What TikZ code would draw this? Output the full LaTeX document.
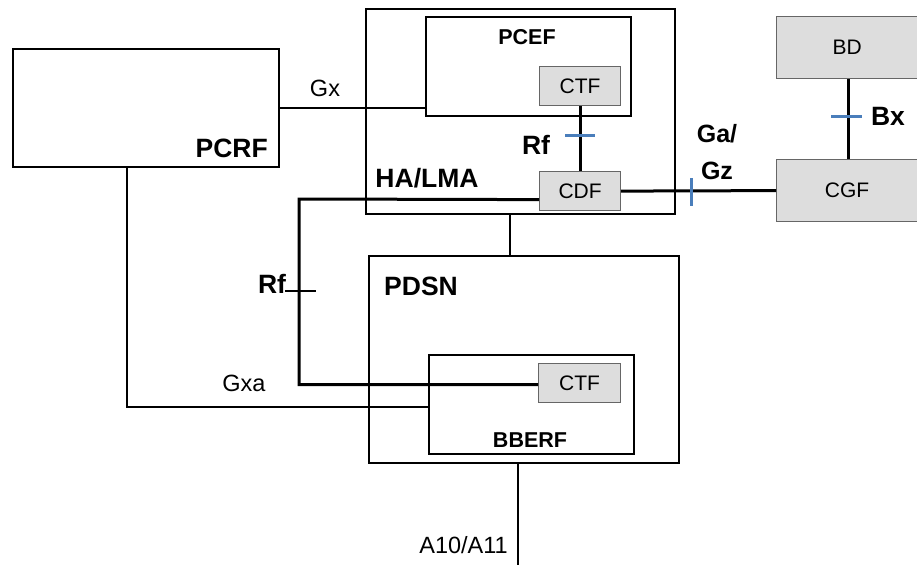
\documentclass[tikz,border=0pt]{standalone}
\usepackage{fontspec}
\setmainfont{Liberation Sans}
\usetikzlibrary{calc}
\definecolor{boxgray}{HTML}{DDDDDD}
\definecolor{edgegray}{HTML}{666666}
\definecolor{tickblue}{HTML}{4A7EBB}
\begin{document}
\begin{tikzpicture}[x=1pt,y=-1pt,
  wbox/.style={draw=black,line width=1.6pt,fill=white,anchor=north west,inner sep=0pt},
  gbox/.style={draw=edgegray,line width=1.2pt,fill=boxgray,anchor=north west,inner sep=0pt,font=\fontsize{21}{24}\selectfont},
  thin/.style={line width=1.5pt},
  thickline/.style={line width=3pt},
  btick/.style={draw=tickblue,line width=3pt},
  lab/.style={inner sep=0pt,font=\fontsize{23.5}{27}\selectfont},
  blab/.style={inner sep=0pt,font=\fontsize{26.5}{30}\selectfont\bfseries},
  slab/.style={inner sep=0pt,font=\fontsize{21.5}{25}\selectfont\bfseries}]
\useasboundingbox (0,0) rectangle (917,565);
% boxes
\node[wbox,minimum width=266pt,minimum height=118pt] (pcrf) at (12,48) {};
\node[wbox,minimum width=309pt,minimum height=205pt] (ha) at (365,8) {};
\node[wbox,minimum width=205pt,minimum height=99pt] (pcef) at (425,16) {};
\node[gbox,minimum width=81pt,minimum height=39pt] (ctfa) at (539,66) {CTF};
\node[gbox,minimum width=81pt,minimum height=39pt] (cdf) at (539,171) {CDF};
\node[gbox,minimum width=145pt,minimum height=62pt] (bd) at (776,16) {\hspace*{-4pt}BD};
\node[gbox,minimum width=145pt,minimum height=62pt] (cgf) at (776,159) {\hspace*{-4pt}CGF};
\node[wbox,minimum width=310pt,minimum height=207pt] (pdsn) at (368,255) {};
\node[wbox,minimum width=205pt,minimum height=99pt] (bberf) at (428,354) {};
\node[gbox,minimum width=82pt,minimum height=39pt] (ctfb) at (538,363) {CTF};
% labels
\node[blab,anchor=east] (lpcrf) at (268,148) {PCRF};
\node[lab] (lgx) at (325,88) {Gx};
\node[slab] (lpcef) at (527,37) {PCEF};
\node[blab] (lrf1) at (536,145) {Rf};
\node[blab] (lha) at (427,178) {HA/LMA};
\node[blab,align=center,font=\fontsize{25}{37}\selectfont\bfseries] (lga) at (717,152) {Ga/\\Gz};
\node[blab] (lbx) at (888,116) {Bx};
\node[blab] (lrf2) at (272,284) {Rf};
\node[blab] (lpdsn) at (421,286) {PDSN};
\node[lab] (lgxa) at (244,383) {Gxa};
\node[slab] (lbberf) at (530,440) {BBERF};
\node[lab,anchor=east] (la10) at (508,545) {A10/A11};
% connectors
\draw[thin] (pcrf.east) -- (pcrf.east -| pcef.west);
\draw[thickline] (ctfa.south) -- (cdf.north);
\coordinate (rft) at ($(ctfa.south)!0.45!(cdf.north)$);
\draw[btick] ([xshift=-15pt]rft) -- ([xshift=15pt]rft);
\draw[thickline] (cdf.east) -- (cgf.west);
\coordinate (gat) at (691,192);
\draw[btick] ([yshift=14pt]gat) -- ([yshift=-14pt]gat);
\draw[thickline] (bd.south -| 848,0) -- (cgf.north -| 848,0);
\coordinate (bxt) at (847,116);
\draw[btick] ([xshift=-16pt]bxt) -- ([xshift=15pt]bxt);
\coordinate (rfc) at (299,199);
\draw[thickline] ([yshift=-8.5pt]cdf.west) -- (rfc) |- ([yshift=-1.5pt]ctfb.west);
\draw[thin] (285,291) -- (316,291);
\draw[thin] ([xshift=-10.5pt]ha.south) -- ([xshift=-10.5pt]ha.south |- pdsn.north);
\coordinate (gxc) at (127,407);
\draw[thin] (pcrf.south -| gxc) -- (gxc) -- (gxc -| bberf.west);
\coordinate (a10) at (518,565);
\draw[thin] (pdsn.south -| a10) -- (a10);
\end{tikzpicture}
\end{document}
